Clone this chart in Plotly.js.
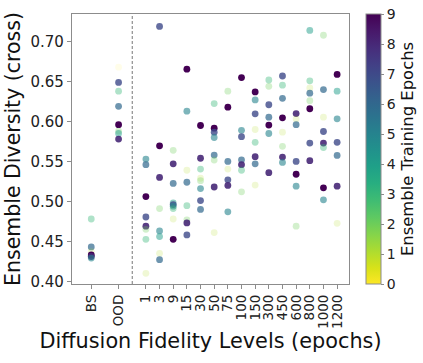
<!DOCTYPE html>
<html>
<head>
<meta charset="utf-8">
<script src="https://cdn.plot.ly/plotly-3.0.1.min.js"></script>
<style>html,body{margin:0;padding:0;background:#fff;}#chart{width:423px;height:363px;}</style>
</head>
<body>
<div id="chart"></div>
<script>
// Category labels along the x axis
const categories = ['BS','OOD','1','3','9','15','30','50','75','100','150','300','450','600','800','1000','1200'];

// Ensemble diversity (cross) per category
const diversity = [
  [0.478, 0.443, 0.437, 0.433, 0.431, 0.429],                       // BS
  [0.668, 0.649, 0.638, 0.619, 0.596, 0.588, 0.585, 0.578],         // OOD
  [0.553, 0.546, 0.506, 0.4805, 0.469, 0.465, 0.4525, 0.410],       // 1
  [0.719, 0.5696, 0.530, 0.491, 0.463, 0.456, 0.435, 0.427],        // 3
  [0.564, 0.547, 0.5225, 0.498, 0.496, 0.494, 0.491, 0.478, 0.4525],// 9
  [0.6655, 0.613, 0.539, 0.524, 0.4946, 0.4767, 0.473, 0.458],      // 15
  [0.595, 0.554, 0.5405, 0.529, 0.526, 0.516, 0.501, 0.490],        // 30
  [0.6225, 0.5917, 0.5867, 0.580, 0.558, 0.5517, 0.518, 0.461],     // 50
  [0.638, 0.618, 0.550, 0.5405, 0.527, 0.520, 0.487],               // 75
  [0.655, 0.589, 0.581, 0.552, 0.546, 0.539, 0.512],                // 100
  [0.637, 0.627, 0.6096, 0.590, 0.574, 0.556, 0.547, 0.5205],       // 150
  [0.652, 0.644, 0.621, 0.6055, 0.5955, 0.585, 0.536],              // 300
  [0.657, 0.6455, 0.629, 0.6046, 0.5867, 0.569, 0.5555, 0.5488],    // 450
  [0.610, 0.603, 0.596, 0.550, 0.534, 0.519, 0.469],                // 600
  [0.714, 0.651, 0.642, 0.6355, 0.626, 0.616, 0.573, 0.551],        // 800
  [0.708, 0.640, 0.6055, 0.5875, 0.573, 0.5675, 0.517, 0.502],      // 1000
  [0.659, 0.638, 0.6034, 0.574, 0.5575, 0.519, 0.4725]              // 1200
];

// Ensemble training epochs (colour) for each point above
const epochs = [
  [3, 6, 1, 9, 8, 5],
  [0, 7, 3, 6, 9, 2, 4, 8],
  [5, 6, 9, 7, 8, 2, 3, 1],
  [7, 9, 8, 2, 5, 4, 1, 6],
  [2, 8, 6, 4, 7, 5, 3, 1, 9],
  [9, 5, 1, 6, 3, 2, 8, 7],
  [9, 8, 3, 1, 2, 5, 7, 6],
  [3, 9, 7, 5, 6, 2, 8, 1],
  [2, 9, 6, 1, 7, 8, 5],
  [9, 5, 7, 6, 8, 3, 2],
  [9, 5, 7, 1, 3, 8, 6, 1],
  [3, 2, 7, 6, 9, 5, 8],
  [7, 3, 6, 9, 1, 2, 8, 5],
  [8, 1, 6, 7, 9, 5, 2],
  [4, 3, 1, 6, 2, 9, 7, 8],
  [2, 6, 1, 7, 8, 3, 9, 5],
  [9, 4, 5, 7, 6, 8, 1]
];

// x position of each category: BS and OOD, a gap, then the fidelity levels
const tickPos = categories.map((c, i) => i === 0 ? 0 : (i === 1 ? 2 : i + 2));

const xs = [], ys = [], cs = [], ops = [];
diversity.forEach((vals, i) => {
  vals.forEach((v, j) => {
    xs.push(tickPos[i]);
    ys.push(v);
    cs.push(epochs[i][j]);
    ops.push((epochs[i][j] + 1) / 10);
  });
});

const FONT = 'DejaVu Sans, sans-serif';
const AX = '#8c8c8c';

const trace = {
  type: 'scatter',
  mode: 'markers',
  x: xs,
  y: ys,
  hoverinfo: 'x+y',
  marker: {
    size: 6.8,
    color: cs,
    opacity: ops,
    cmin: 0,
    cmax: 9,
    colorscale: 'Viridis',
    reversescale: true,
    line: {width: 0},
    colorbar: {
      x: 1.025,
      xanchor: 'left',
      xpad: 10,
      y: 0.5,
      yanchor: 'middle',
      len: 1,
      lenmode: 'fraction',
      ypad: 0,
      thickness: 15,
      outlinewidth: 1,
      outlinecolor: AX,
      tickmode: 'array',
      tickvals: [0,1,2,3,4,5,6,7,8,9],
      ticks: 'outside',
      ticklen: 3,
      tickcolor: AX,
      tickfont: {family: FONT, size: 14, color: '#222'},
      title: {text: 'Ensemble Training Epochs', side: 'right', font: {family: FONT, size: 16.4, color: '#111'}}
    }
  },
  showlegend: false
};

const layout = {
  width: 423,
  height: 363,
  margin: {l: 72, r: 74, t: 14, b: 79, autoexpand: false},
  paper_bgcolor: '#fff',
  plot_bgcolor: '#fff',
  font: {family: FONT, color: '#222'},
  xaxis: {
    range: [-1.41, 18.87],
    tickmode: 'array',
    tickvals: tickPos,
    ticktext: categories,
    tickangle: -90,
    tickfont: {family: FONT, size: 13.5, color: '#222'},
    ticks: 'outside',
    ticklen: 4,
    tickcolor: AX,
    showgrid: false,
    zeroline: false,
    showline: true,
    linecolor: AX,
    linewidth: 1.2,
    mirror: true,
    automargin: false,
    title: {text: 'Diffusion Fidelity Levels (epochs)', font: {family: FONT, size: 20.8, color: '#111'}, standoff: 4}
  },
  yaxis: {
    range: [0.3966, 0.7346],
    tickmode: 'array',
    tickvals: [0.40, 0.45, 0.50, 0.55, 0.60, 0.65, 0.70],
    ticktext: ['0.40','0.45','0.50','0.55','0.60','0.65','0.70'],
    tickfont: {family: FONT, size: 15, color: '#222'},
    ticks: 'outside',
    ticklen: 4,
    tickcolor: AX,
    showgrid: false,
    zeroline: false,
    showline: true,
    linecolor: AX,
    linewidth: 1.2,
    mirror: true,
    automargin: false,
    title: {text: 'Ensemble Diversity (cross)', font: {family: FONT, size: 20.5, color: '#111'}, standoff: 4}
  },
  shapes: [{
    type: 'line',
    xref: 'x', yref: 'paper',
    x0: 3, x1: 3, y0: 0, y1: 1,
    line: {color: '#777', width: 1, dash: '3px,2px'}
  }]
};

Plotly.newPlot('chart', [trace], layout, {displayModeBar: false, staticPlot: true});
</script>
</body>
</html>
